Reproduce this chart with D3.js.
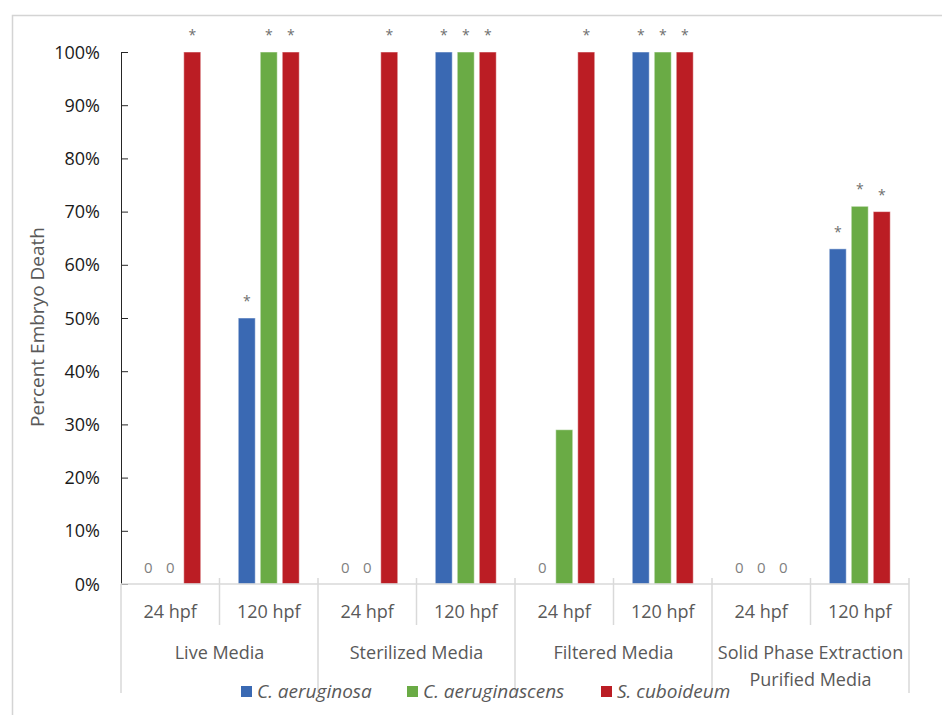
<!DOCTYPE html>
<html>
<head>
<meta charset="utf-8">
<script src="https://cdn.jsdelivr.net/npm/d3@7"></script>
<style>
  body { margin: 0; background: #fff; }
  svg { display: block; font-family: "Open Sans", sans-serif; }
</style>
</head>
<body>
<div id="chart"></div>
<script>
// media groups, each split into two time points
var groups = ["Live Media", "Sterilized Media", "Filtered Media", ["Solid Phase Extraction", "Purified Media"]];
var times = ["24 hpf", "120 hpf"];
var species = ["C. aeruginosa", "C. aeruginascens", "S. cuboideum"];
var colours = ["#3a69b3", "#6aab45", "#bb1d24"];

// percent embryo death per subgroup (Live 24, Live 120, Sterilized 24, ...)
var aeruginosa    = [0, 0.50, 0, 1.00, 0, 1.00, 0, 0.63];
var aeruginascens = [0, 1.00, 0, 1.00, 0.29, 1.00, 0, 0.71];
var cuboideum     = [1.00, 1.00, 1.00, 1.00, 1.00, 1.00, 0, 0.70];
// significance markers (*)
var aeruginosaSig    = [0, 1, 0, 1, 0, 1, 0, 1];
var aeruginascensSig = [0, 1, 0, 1, 0, 1, 0, 1];
var cuboideumSig     = [1, 1, 1, 1, 1, 1, 0, 1];

var yTicks = [0, 0.1, 0.2, 0.3, 0.4, 0.5, 0.6, 0.7, 0.8, 0.9, 1.0];

(function() {
  var W = 942, H = 715;
  var plotLeft = 121, plotRight = 909, plotTop = 52, plotBottom = 584;
  var font = "'Open Sans', sans-serif";

  var series = [aeruginosa, aeruginascens, cuboideum];
  var sigs = [aeruginosaSig, aeruginascensSig, cuboideumSig];

  var subgroups = [];
  groups.forEach(function(g, gi) {
    times.forEach(function(t) { subgroups.push(gi + "|" + t); });
  });

  var svg = d3.select("#chart").append("svg")
    .attr("width", W)
    .attr("height", H);

  // outer frame (cropped on right/bottom)
  svg.append("rect")
    .attr("x", 12.5).attr("y", 15.5)
    .attr("width", W + 20).attr("height", H + 20)
    .attr("fill", "none")
    .attr("stroke", "#d4d4d4")
    .attr("stroke-width", 1.5);

  var x0 = d3.scaleBand().domain(subgroups).range([plotLeft, plotRight]).padding(0);
  var x1 = d3.scaleBand().domain(species).range([0, x0.bandwidth()])
    .paddingInner(0.227).paddingOuter(0.852);
  var y = d3.scaleLinear().domain([0, 1]).range([plotBottom, plotTop]);

  // y axis, ticks on the inside
  var yAxisCall = d3.axisRight(y)
    .tickValues(yTicks)
    .tickFormat(d3.format(".0%"))
    .tickSizeOuter(0)
    .tickSize(7);

  var yAxis = svg.append("g")
    .attr("transform", "translate(" + plotLeft + ",0)")
    .call(yAxisCall)
    .attr("font-family", font);
  yAxis.select(".domain").attr("stroke", "#262626");
  yAxis.selectAll(".tick line").attr("stroke", "#262626");
  yAxis.selectAll(".tick text")
    .attr("x", -21)
    .attr("dy", "0.34em")
    .attr("text-anchor", "end")
    .attr("fill", "#1a1a1a")
    .style("font-size", "18px");
  yAxis.selectAll(".tick").filter(function(d) { return d === 0; }).select("line").remove();

  svg.append("text")
    .attr("transform", "translate(44," + 327 + ") rotate(-90)")
    .attr("text-anchor", "middle")
    .attr("fill", "#595959")
    .style("font-size", "19px")
    .text("Percent Embryo Death");

  // bars
  var plot = svg.append("g");
  series.forEach(function(vals, si) {
    plot.selectAll(".bar" + si)
      .data(vals)
      .enter().append("rect")
        .attr("class", "bar" + si)
        .attr("x", function(d, i) { return x0(subgroups[i]) + x1(species[si]); })
        .attr("y", function(d) { return y(d); })
        .attr("width", x1.bandwidth())
        .attr("height", function(d) { return y(0) - y(d); })
        .attr("fill", colours[si])
        .attr("stroke", "#ffffff")
        .attr("stroke-opacity", 0.5)
        .attr("stroke-width", 1);
  });

  // "0" labels and significance stars
  series.forEach(function(vals, si) {
    vals.forEach(function(v, i) {
      var cx = x0(subgroups[i]) + x1(species[si]) + x1.bandwidth() / 2;
      if (v === 0) {
        plot.append("text")
          .attr("x", cx)
          .attr("y", y(0) - 11)
          .attr("text-anchor", "middle")
          .attr("fill", "#7f7f7f")
          .style("font-size", "15px")
          .text("0");
      }
      if (sigs[si][i]) {
        plot.append("text")
          .attr("x", cx)
          .attr("y", y(v) - 12)
          .attr("text-anchor", "middle")
          .attr("fill", "#6f6f6f")
          .style("font-size", "14px")
          .text("*");
      }
    });
  });

  // category axis
  var catAxis = svg.append("g");
  catAxis.append("line")
    .attr("x1", plotLeft).attr("x2", plotRight)
    .attr("y1", plotBottom).attr("y2", plotBottom)
    .attr("stroke", "#d9d9d9").attr("stroke-width", 1.5);

  var bounds = d3.range(subgroups.length + 1);
  catAxis.selectAll(".sep")
    .data(bounds)
    .enter().append("line")
      .attr("x1", function(d) { return plotLeft + d * x0.step(); })
      .attr("x2", function(d) { return plotLeft + d * x0.step(); })
      .attr("y1", function(d) { return d === 0 ? plotBottom : plotBottom - 6; })
      .attr("y2", function(d) { return d % 2 === 0 ? 693 : 625; })
      .attr("stroke", "#d9d9d9").attr("stroke-width", 1.5);

  catAxis.selectAll(".time")
    .data(subgroups)
    .enter().append("text")
      .attr("x", function(d) { return x0(d) + x0.bandwidth() / 2; })
      .attr("y", 618)
      .attr("text-anchor", "middle")
      .attr("fill", "#595959")
      .style("font-size", "18px")
      .text(function(d) { return d.split("|")[1]; });

  groups.forEach(function(g, gi) {
    var cx = plotLeft + (gi * 2 + 1) * x0.step();
    var lines = Array.isArray(g) ? g : [g];
    lines.forEach(function(line, li) {
      catAxis.append("text")
        .attr("x", cx)
        .attr("y", 659 + li * 27)
        .attr("text-anchor", "middle")
        .attr("fill", "#595959")
        .style("font-size", "18px")
        .text(line);
    });
  });

  // legend
  var legendX = [241, 407, 601];
  var legend = svg.append("g");
  species.forEach(function(s, si) {
    legend.append("rect")
      .attr("x", legendX[si]).attr("y", 686)
      .attr("width", 11).attr("height", 11)
      .attr("fill", colours[si]);
    legend.append("text")
      .attr("x", legendX[si] + 16)
      .attr("y", 698)
      .attr("fill", "#595959")
      .style("font-size", "19px")
      .style("font-style", "italic")
      .text(s);
  });
})();
</script>
</body>
</html>
